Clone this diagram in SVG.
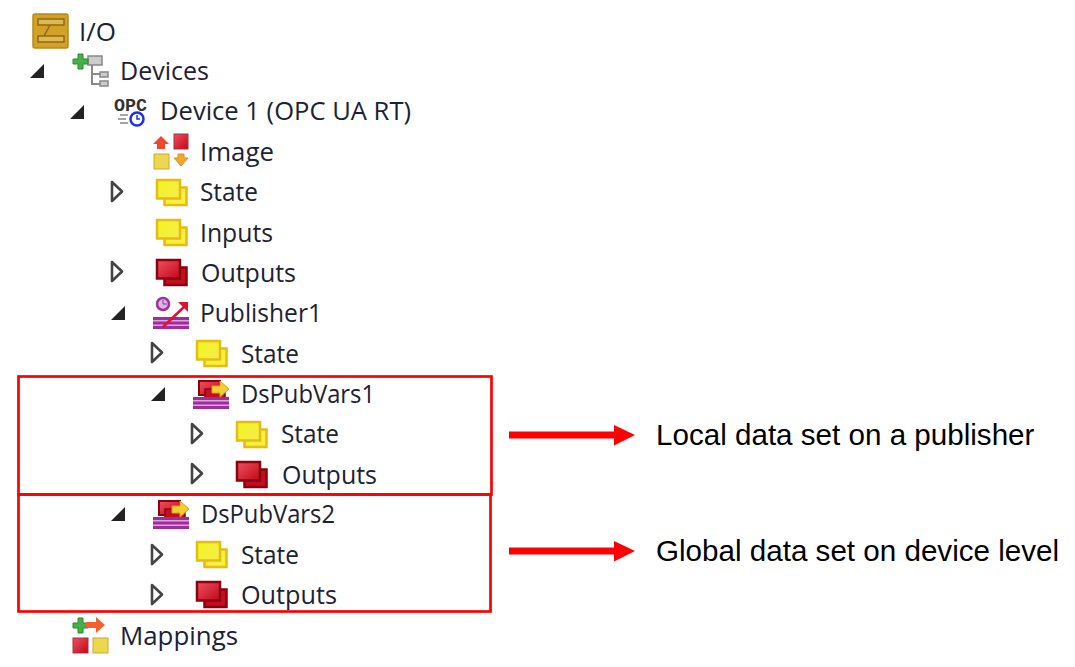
<svg xmlns="http://www.w3.org/2000/svg" width="1075" height="667" viewBox="0 0 1075 667">
<style>
.t{font-family:"Open Sans","Noto Sans",sans-serif;font-size:26px;fill:#1c2233}
.n{font-family:"Liberation Sans",Arial,sans-serif;font-size:29.600px;fill:#000}
.box{fill:none;stroke:#f00;stroke-width:2.700}
.open{fill:#fff;stroke:#444;stroke-width:2.600;stroke-linejoin:round}
.closed{fill:#222}
</style>
<defs>
<linearGradient id="gy" x1="0" y1="0" x2="1" y2="1"><stop offset="0" stop-color="#f2f51c"/><stop offset="1" stop-color="#f6ec50"/></linearGradient>
<linearGradient id="gr" x1="0" y1="0" x2="1" y2="1"><stop offset="0" stop-color="#f05060"/><stop offset="1" stop-color="#c00818"/></linearGradient>
<g id="yellow"><rect x="8.500" y="8.500" width="22" height="17.500" fill="#f6f040" stroke="#e6bc10" stroke-width="2.500"/><rect x="1" y="1" width="23" height="18.500" fill="url(#gy)" stroke="#e6bc10" stroke-width="2.500"/></g>
<g id="red"><rect x="8.500" y="8.500" width="22" height="17.500" fill="#c01020" stroke="#8c0010" stroke-width="2.500"/><rect x="1" y="1" width="23" height="18.500" fill="url(#gr)" stroke="#8c0010" stroke-width="2.500"/></g>
<g id="stripes"><rect x="0" y="0" width="36" height="12" fill="#d8a8d8"/><g fill="#a02ca0"><rect x="0" y="0" width="36" height="3"/><rect x="0" y="4.500" width="36" height="3"/><rect x="0" y="9" width="36" height="3"/></g></g>
<g id="ds"><rect x="6" y="1" width="21" height="14" fill="url(#gr)" stroke="#8c0010" stroke-width="2"/><rect x="12" y="9" width="20" height="9" fill="#c01020" stroke="#8c0010" stroke-width="1.500"/><path d="M19 6h8v-5l9 8-9 8v-4h-8z" fill="#f0d030" stroke="#e0a020" stroke-width="1"/><use href="#stripes" y="17"/></g>
<path id="tc" d="M0 14L14 14L14 0Z"/>
<path id="to" d="M1 0L11 9.500L1 19Z"/>
</defs>
<g id="connectors">
<path fill="#f00" d="M509 431.500H614V425L635 435L614 445.500V438.500H509Z"/>
<path fill="#f00" d="M509 547.500H614V541L635 551L614 561.500V554.500H509Z"/>
</g>
<g id="node-io"><rect x="33" y="14" width="35" height="34" rx="2" fill="#d3a12a" stroke="#b8891a" stroke-width="1.500"/><path d="M39 20h26v6H39zM51 26l-6 11M39 37h26v6H39z" fill="#e0b850" stroke="#8c6a14" stroke-width="1.500" transform="translate(-1 -1)"/><text class="t" x="79" y="41" textLength="37" lengthAdjust="spacingAndGlyphs">I/O</text></g>
<g id="node-devices"><use href="#tc" class="closed" x="30" y="64"/><path d="M92 62v22h9M92 74h9" fill="none" stroke="#8a8a8a" stroke-width="2"/><rect x="88" y="56" width="14" height="9" fill="#ccc" stroke="#888" stroke-width="1.500"/><rect x="100" y="72" width="8" height="5" fill="#ccc" stroke="#888" stroke-width="1.500"/><rect x="100" y="81" width="8" height="5" fill="#ccc" stroke="#888" stroke-width="1.500"/><path d="M78 54v5h-5v5h5v5h5v-5h5v-5h-5v-5z" fill="#48b048" stroke="#2a8a2a"/><text class="t" x="120" y="80" textLength="89" lengthAdjust="spacingAndGlyphs">Devices</text></g>
<g id="node-device1"><use href="#tc" class="closed" x="70" y="105"/><text x="114" y="111" font-family="Liberation Mono,monospace" font-size="19" font-weight="700" fill="#333" textLength="33" lengthAdjust="spacingAndGlyphs">OPC</text><path d="M120 115h8M118 119h8M120 123h8" stroke="#888" stroke-width="1.500"/><circle cx="137" cy="119" r="6.500" fill="#fff" stroke="#1a30f0" stroke-width="2.500"/><path d="M137 115v4h3" fill="none" stroke="#1a30f0" stroke-width="1.500"/><text class="t" x="160" y="120" textLength="251" lengthAdjust="spacingAndGlyphs">Device 1 (OPC UA RT)</text></g>
<g id="node-image"><path d="M153 144l8-8 8 8h-4v5h-8v-5z" fill="#f04830"/><rect x="174" y="134" width="14" height="15" fill="url(#gr)" stroke="#a83040"/><rect x="154" y="154" width="15" height="15" fill="#ecd850" stroke="#d0a830"/><path d="M174 158h4v-4h6v4h4l-7 8z" fill="#f0a830" stroke="#e09020"/><text class="t" x="200" y="161" textLength="74" lengthAdjust="spacingAndGlyphs">Image</text></g>
<g id="node-state1"><use href="#to" class="open" x="111" y="182"/><use href="#yellow" x="156" y="179"/><text class="t" x="200" y="201" textLength="58" lengthAdjust="spacingAndGlyphs">State</text></g>
<g id="node-inputs"><use href="#yellow" x="156" y="219"/><text class="t" x="200" y="242" textLength="73" lengthAdjust="spacingAndGlyphs">Inputs</text></g>
<g id="node-outputs1"><use href="#to" class="open" x="111" y="262"/><use href="#red" x="156" y="259"/><text class="t" x="201" y="282" textLength="95" lengthAdjust="spacingAndGlyphs">Outputs</text></g>
<g id="node-publisher1"><use href="#tc" class="closed" x="111" y="306"/><use href="#stripes" x="153" y="317"/><circle cx="163" cy="304" r="6" fill="#d8b8e0" stroke="#a030a0" stroke-width="2.500"/><path d="M163 300v4h4" fill="none" stroke="#a030a0"/><path d="M163 327L185 306" stroke="#e01030" stroke-width="2.500"/><path d="M178 302h10v10z" fill="#e01030"/><text class="t" x="200" y="322" textLength="122" lengthAdjust="spacingAndGlyphs">Publisher1</text></g>
<g id="node-state2"><use href="#to" class="open" x="151" y="343"/><use href="#yellow" x="196" y="340"/><text class="t" x="241" y="363" textLength="58" lengthAdjust="spacingAndGlyphs">State</text></g>
<g id="node-dspubvars1"><use href="#tc" class="closed" x="151" y="387"/><use href="#ds" x="193" y="380"/><text class="t" x="241" y="403" textLength="134" lengthAdjust="spacingAndGlyphs">DsPubVars1</text></g>
<g id="node-state3"><use href="#to" class="open" x="191" y="424"/><use href="#yellow" x="236" y="421"/><text class="t" x="281" y="443" textLength="58" lengthAdjust="spacingAndGlyphs">State</text></g>
<g id="node-outputs2"><use href="#to" class="open" x="191" y="464"/><use href="#red" x="236" y="461"/><text class="t" x="282" y="484" textLength="95" lengthAdjust="spacingAndGlyphs">Outputs</text></g>
<g id="node-dspubvars2"><use href="#tc" class="closed" x="111" y="507"/><use href="#ds" x="153" y="500"/><text class="t" x="201" y="523" textLength="134" lengthAdjust="spacingAndGlyphs">DsPubVars2</text></g>
<g id="node-state4"><use href="#to" class="open" x="151" y="545"/><use href="#yellow" x="196" y="541"/><text class="t" x="241" y="564" textLength="58" lengthAdjust="spacingAndGlyphs">State</text></g>
<g id="node-outputs3"><use href="#to" class="open" x="151" y="585"/><use href="#red" x="196" y="581"/><text class="t" x="241" y="604" textLength="96" lengthAdjust="spacingAndGlyphs">Outputs</text></g>
<g id="node-mappings"><path d="M78 618v5h-5v5h5v5h5v-5h5v-5h-5v-5z" fill="#48b048" stroke="#2a8a2a"/><path d="M86 628h10v-5l9 8-9 8v-5h-10z" fill="#f06030" transform="translate(0 -6)"/><rect x="73" y="638" width="15" height="15" fill="url(#gr)" stroke="#a83040"/><rect x="93" y="638" width="15" height="15" fill="#ecd850" stroke="#d0a830"/><text class="t" x="120" y="645" textLength="118" lengthAdjust="spacingAndGlyphs">Mappings</text></g>
<g id="box-local"><rect class="box" x="18.500" y="376.500" width="473" height="118"/></g>
<g id="box-global"><rect class="box" x="18.500" y="494.500" width="472" height="117"/></g>
<g id="label-local"><text class="n" x="656" y="445">Local data set on a publisher</text></g>
<g id="label-global"><text class="n" x="656" y="561">Global data set on device level</text></g>
</svg>
